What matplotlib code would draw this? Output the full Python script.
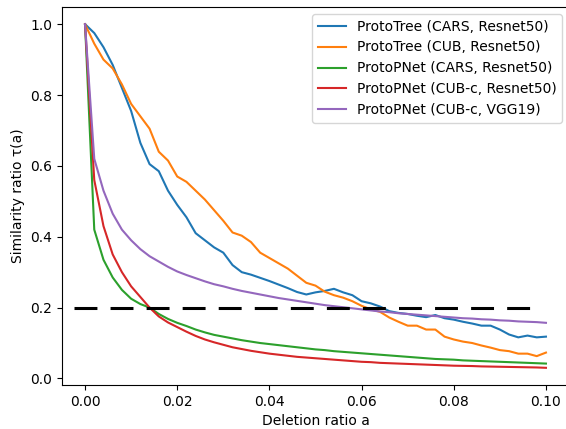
import matplotlib
matplotlib.use("Agg")
import matplotlib.pyplot as plt
import numpy as np

# deletion ratio grid (step 0.002)
deletion = np.linspace(0, 0.1, 51)

prototree_cars = [1.00, 0.975, 0.935, 0.885, 0.82, 0.755, 0.665, 0.605, 0.585, 0.53,
                  0.49, 0.455, 0.41, 0.39, 0.37, 0.355, 0.32, 0.30, 0.293, 0.284,
                  0.275, 0.265, 0.255, 0.244, 0.237, 0.243, 0.247, 0.253, 0.243, 0.235,
                  0.218, 0.212, 0.203, 0.19, 0.185, 0.182, 0.177, 0.173, 0.179, 0.17,
                  0.166, 0.16, 0.155, 0.149, 0.149, 0.138, 0.124, 0.116, 0.121, 0.116,
                  0.118]
prototree_cub = [1.00, 0.945, 0.90, 0.875, 0.83, 0.775, 0.74, 0.705, 0.64, 0.615,
                 0.57, 0.555, 0.53, 0.505, 0.475, 0.445, 0.412, 0.403, 0.385, 0.355,
                 0.34, 0.325, 0.31, 0.29, 0.27, 0.262, 0.245, 0.235, 0.228, 0.218,
                 0.205, 0.195, 0.188, 0.172, 0.16, 0.149, 0.149, 0.138, 0.138, 0.118,
                 0.11, 0.104, 0.10, 0.093, 0.087, 0.08, 0.077, 0.07, 0.07, 0.063,
                 0.073]
protopnet_cars = [1.00, 0.42, 0.335, 0.285, 0.25, 0.225, 0.21, 0.2, 0.182, 0.168,
                  0.157, 0.148, 0.138, 0.13, 0.123, 0.118, 0.113, 0.108, 0.104, 0.1,
                  0.097, 0.094, 0.091, 0.088, 0.085, 0.082, 0.08, 0.077, 0.075, 0.073,
                  0.071, 0.069, 0.067, 0.065, 0.063, 0.061, 0.059, 0.057, 0.055, 0.054,
                  0.053, 0.051, 0.05, 0.049, 0.048, 0.047, 0.046, 0.045, 0.044, 0.043,
                  0.042]
protopnet_cub_resnet = [1.00, 0.56, 0.43, 0.35, 0.30, 0.26, 0.23, 0.2, 0.175, 0.158,
                        0.145, 0.132, 0.12, 0.11, 0.102, 0.095, 0.088, 0.083, 0.078, 0.074,
                        0.07, 0.067, 0.064, 0.061, 0.059, 0.057, 0.055, 0.053, 0.051, 0.049,
                        0.047, 0.046, 0.044, 0.043, 0.042, 0.041, 0.04, 0.039, 0.038, 0.037,
                        0.036, 0.0355, 0.035, 0.034, 0.0335, 0.033, 0.0325, 0.032, 0.0315, 0.031,
                        0.03]
protopnet_cub_vgg = [1.00, 0.62, 0.53, 0.465, 0.42, 0.39, 0.365, 0.345, 0.33, 0.315,
                     0.302, 0.292, 0.283, 0.274, 0.266, 0.26, 0.253, 0.247, 0.242, 0.237,
                     0.232, 0.227, 0.223, 0.219, 0.215, 0.211, 0.207, 0.204, 0.201, 0.198,
                     0.195, 0.192, 0.189, 0.187, 0.184, 0.182, 0.18, 0.178, 0.176, 0.174,
                     0.172, 0.17, 0.169, 0.167, 0.166, 0.164, 0.163, 0.161, 0.16, 0.159,
                     0.157]

labels = ['ProtoTree (CARS, Resnet50)', 'ProtoTree (CUB, Resnet50)',
          'ProtoPNet (CARS, Resnet50)', 'ProtoPNet (CUB-c, Resnet50)',
          'ProtoPNet (CUB-c, VGG19)']
series = [prototree_cars, prototree_cub, protopnet_cars, protopnet_cub_resnet, protopnet_cub_vgg]

threshold = 0.2
threshold_x = [-0.0025, 0.099]

fig = plt.figure(figsize=(5.66, 4.29), dpi=100)
# axes run past the right edge, like the cropped original
ax = fig.add_axes([62 / 566, 44 / 429, 507 / 566, 378 / 429])

for lab, ys in zip(labels, series):
    ax.plot(deletion, ys, label=lab, lw=1.5)

ax.plot(threshold_x, [threshold, threshold], color='black', lw=2.2,
        dashes=(7.5, 4.3), scalex=False)

ax.set_xlim(-0.005, 0.105)
ax.set_xticks([0.0, 0.02, 0.04, 0.06, 0.08, 0.10])
ax.set_xlabel('Deletion ratio a')
ax.set_ylabel('Similarity ratio τ(a)')
ax.spines['right'].set_visible(False)
ax.legend(loc='upper right')

fig.savefig('out.png', dpi=100)
